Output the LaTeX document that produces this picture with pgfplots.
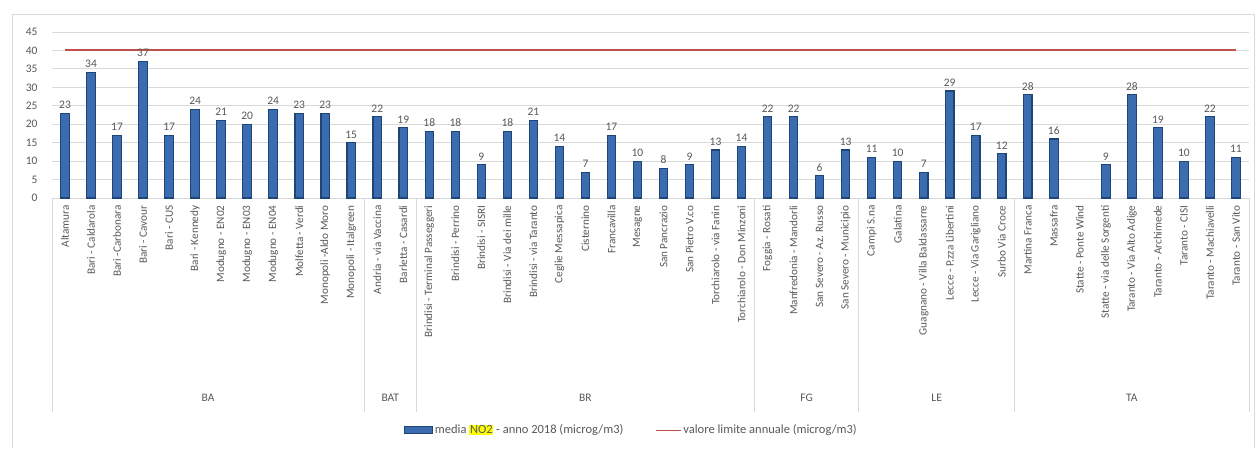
\documentclass[border=0pt]{standalone}
\usepackage{pgfplots}
\pgfplotsset{compat=1.18}
\usepackage{pgfplotstable}
\usepackage{fontspec}
\setmainfont{Carlito}
\definecolor{barFill}{HTML}{3A6CAF}
\definecolor{barEdge}{HTML}{1F4477}
\definecolor{limitRed}{HTML}{C0504D}
\definecolor{gridGray}{HTML}{D9D9D9}
\definecolor{textGray}{HTML}{595959}
\definecolor{hl}{HTML}{FFFF00}
\setlength{\fboxsep}{0.6pt}
\pgfplotsset{
  barlegend/.style={legend image code/.code={\path[##1] (0pt,-3.5pt) rectangle (28pt,3.5pt);}},
  linelegend/.style={legend image code/.code={\draw[##1, line width=1pt] (0pt,0pt) -- (25pt,0pt);}},
}

\pgfplotstableread{
x y
0 23
1 34
2 17
3 37
4 17
5 24
6 21
7 20
8 24
9 23
10 23
11 15
12 22
13 19
14 18
15 18
16 9
17 18
18 21
19 14
20 7
21 17
22 10
23 8
24 9
25 13
26 14
27 22
28 22
29 6
30 13
31 11
32 10
33 7
34 29
35 17
36 12
37 28
38 16
40 9
41 28
42 19
43 10
44 22
45 11
}\nodata

\begin{document}
\begin{tikzpicture}
\useasboundingbox (0,0) rectangle (1257pt,448pt);
\fill[white] (0,0) rectangle (1257pt,448pt);
\draw[gridGray, line width=1pt] (12pt,0) -- (12pt,433pt) -- (1254pt,433pt) -- (1254pt,0);
\begin{axis}[
  at={(52pt,250pt)}, anchor=south west,
  scale only axis, width=1197pt, height=166pt,
  xmin=-0.5, xmax=45.5, ymin=0, ymax=45,
  ytick={0,5,...,45},
  /pgf/number format/assume math mode=true,
  ymajorgrids, grid style={gridGray, line width=0.8pt},
  axis line style={draw=none},
  major tick length=0pt,
  tick align=inside,
  xtick pos=left, ytick pos=left,
  xtick={0,...,45},
  xticklabels={Altamura, Bari - Caldarola, Bari -Carbonara, Bari - Cavour, Bari - CUS, Bari - Kennedy, Modugno - EN02, Modugno - EN03, Modugno - EN04, Molfetta - Verdi, Monopoli -Aldo Moro, Monopoli - Italgreen, Andria - via Vaccina, Barletta - Casardi, Brindisi - Terminal Passeggeri, Brindisi - Perrino, Brindisi - SISRI, Brindisi - Via dei mille, Brindisi - via Taranto, Ceglie Messapica, Cisternino, Francavilla, Mesagne, San Pancrazio, San Pietro V.co, Torchiarolo - via Fanin, Torchiarolo - Don Minzoni, Foggia - Rosati, Manfredonia - Mandorli, San Severo - Az. Russo, San Severo - Municipio, Campi S.na, Galatina, Guagnano - Villa Baldassarre, Lecce - P.zza Libertini, Lecce - Via Garigliano, Surbo Via Croce, Martina Franca, Massafra, Statte - Ponte Wind, Statte - via delle Sorgenti, Taranto - Via Alto Adige, Taranto - Archimede, Taranto - CISI, Taranto - Machiavelli, Taranto - San Vito},
  xticklabel style={rotate=90, anchor=east, font=\fontsize{11.2}{13}\selectfont, text=textGray, xshift=-4pt},
  yticklabel style={font=\fontsize{11.5}{13}\selectfont, text=textGray, xshift=-11pt},
  extra x ticks={-0.5,11.5,13.5,26.5,30.5,36.5,45.5},
  extra x tick labels={},
  extra x tick style={grid=none, tick align=outside, major tick length=214pt, tick style={draw=gridGray, line width=0.9pt}},
  legend columns=2,
  legend cell align=left,
  legend style={draw=none, fill=none, at={(0.484,-1.398)}, anchor=center,
    font=\fontsize{12.5}{14}\selectfont, text=textGray,
    /tikz/every even column/.append style={column sep=30pt}},
  clip=false,
]
\addplot[ybar, bar width=8.5pt, bar shift=0pt, fill=barFill, draw=barEdge, line width=1.1pt,
  nodes near coords, nodes near coords style={font=\fontsize{11.5}{13}\selectfont, text=textGray, inner sep=4pt},
  barlegend]
  table[x=x, y=y] {\nodata};
\addlegendentry{media \colorbox{hl}{NO2} - anno 2018 (microg/m3)}
\addplot[limitRed, line width=2pt, mark=none, linelegend]
  coordinates {(0,40) (45,40)};
\addlegendentry{valore limite annuale (microg/m3)}
\node[font=\fontsize{11.5}{13}\selectfont, text=textGray] at (axis cs:5.5,0) [yshift=-200pt] {BA};
\node[font=\fontsize{11.5}{13}\selectfont, text=textGray] at (axis cs:12.5,0) [yshift=-200pt] {BAT};
\node[font=\fontsize{11.5}{13}\selectfont, text=textGray] at (axis cs:20,0) [yshift=-200pt] {BR};
\node[font=\fontsize{11.5}{13}\selectfont, text=textGray] at (axis cs:28.5,0) [yshift=-200pt] {FG};
\node[font=\fontsize{11.5}{13}\selectfont, text=textGray] at (axis cs:33.5,0) [yshift=-200pt] {LE};
\node[font=\fontsize{11.5}{13}\selectfont, text=textGray] at (axis cs:41,0) [yshift=-200pt] {TA};
\end{axis}
\end{tikzpicture}
\end{document}
